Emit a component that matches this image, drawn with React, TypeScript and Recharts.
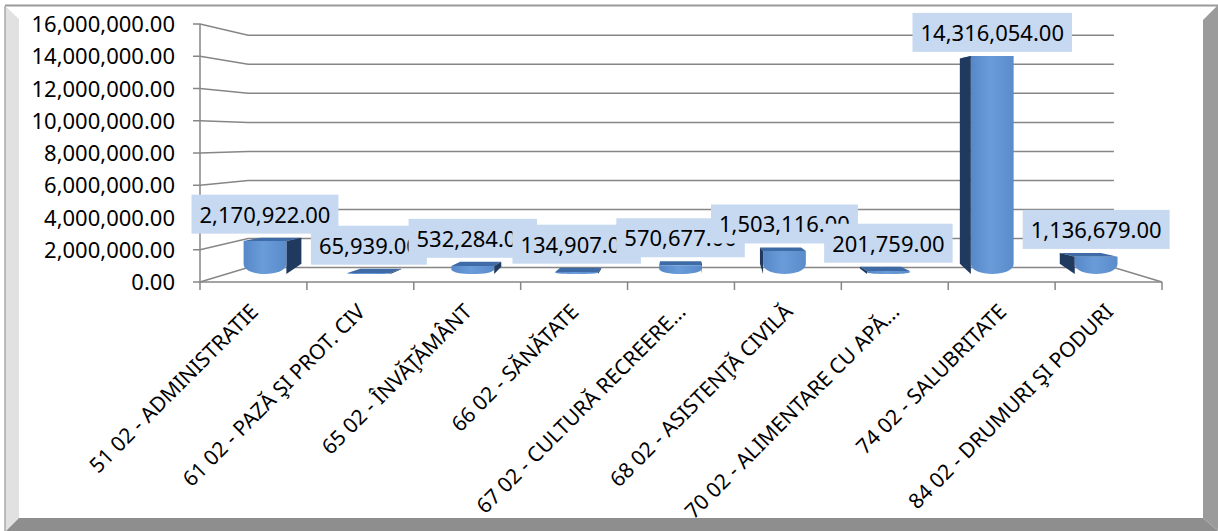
import React from 'react';
import { BarChart, Bar, XAxis, YAxis, CartesianGrid, LabelList } from 'recharts';

const categories = [
  '51 02 - ADMINISTRATIE',
  '61 02 - PAZĂ ŞI PROT. CIV',
  '65 02 - ÎNVĂŢĂMÂNT',
  '66 02 - SĂNĂTATE',
  '67 02 - CULTURĂ RECREERE...',
  '68 02 - ASISTENŢĂ CIVILĂ',
  '70 02 - ALIMENTARE CU APĂ...',
  '74 02 - SALUBRITATE',
  '84 02 - DRUMURI ŞI PODURI',
];
const amounts = [2170922, 65939, 532284, 134907, 570677, 1503116, 201759, 14316054, 1136679];
const yTicks = [0, 2000000, 4000000, 6000000, 8000000, 10000000, 12000000, 14000000, 16000000];

const data = categories.map((name, i) => ({ name, value: amounts[i] }));

const W = 1218;
const H = 531;
const MARGIN = { top: 24, right: 56, bottom: 0, left: 0 };
const Y_AXIS_W = 200;
const X_AXIS_H = 249;
const PLOT_LEFT = MARGIN.left + Y_AXIS_W;
const PLOT_RIGHT = W - MARGIN.right;
const AXIS_Y = H - MARGIN.bottom - X_AXIS_H;
const BAND = (PLOT_RIGHT - PLOT_LEFT) / categories.length;

// fake 3D: depth scaling toward a vanishing point
const CX = (PLOT_LEFT + PLOT_RIGHT) / 2;
const CY = 137;
const K_WALL = 0.9;
const K_FRONT = 0.972;
const K_BACK = 0.935;
const KY_FRONT = 0.945;
const KY_BACK = 0.915;
const px = (x: number, k: number) => CX + k * (x - CX);
const py = (y: number, k: number) => CY + k * (y - CY);

const FONT = '"Noto Sans", sans-serif';
const AXIS = '#868686';

const fmt = (v: number) =>
  v.toLocaleString('en-US', { minimumFractionDigits: 2, maximumFractionDigits: 2 });

let ctx: CanvasRenderingContext2D | null = null;
const textWidth = (s: string) => {
  if (!ctx) {
    ctx = document.createElement('canvas').getContext('2d');
    if (ctx) ctx.font = `22px ${FONT}`;
  }
  return ctx ? ctx.measureText(s).width : s.length * 11;
};

const GridLine = (props: any) => {
  const { y1 } = props;
  const yb = py(y1, K_WALL);
  const xl = px(PLOT_LEFT, K_WALL);
  const xr = px(PLOT_RIGHT, K_WALL);
  let d = `M${PLOT_LEFT},${y1} L${xl},${yb} L${xr},${yb}`;
  if (Math.abs(y1 - AXIS_Y) < 1) d += ` L${PLOT_RIGHT},${y1}`;
  return <path key={`grid-${y1}`} d={d} stroke={AXIS} strokeWidth={1.5} fill="none" />;
};

const Column = (props: any) => {
  const { x, y, width, height, index } = props;
  const fl = px(x, K_FRONT);
  const fr = px(x + width, K_FRONT);
  const ft = py(y, KY_FRONT);
  const fb = py(y + height, KY_FRONT);
  const bl = px(x, K_BACK);
  const br = px(x + width, K_BACK);
  const bt = py(y, KY_BACK);
  const bb = py(y + height, KY_BACK);
  const r = Math.max(0, Math.min(10, (fb - ft) * 0.6, (fr - fl) / 2));
  const leftOfCenter = x + width / 2 < CX;
  const id = `colGrad${index}`;
  const side = leftOfCenter
    ? `M${fr},${ft} L${br},${bt} L${br},${bb - r * 0.6} L${fr},${fb}Z`
    : `M${fl},${ft} L${bl},${bt} L${bl},${bb - r * 0.6} L${fl},${fb}Z`;
  const front = `M${fl},${ft} L${fr},${ft} L${fr},${fb - r} C${fr},${fb + r * 0.33} ${fl},${fb + r * 0.33} ${fl},${fb - r}Z`;
  return (
    <g>
      <defs>
        <linearGradient id={id} x1="0" y1="0" x2="1" y2="0">
          <stop offset="0" stopColor="#5687C7" />
          <stop offset="0.45" stopColor="#6A9CDA" />
          <stop offset="1" stopColor="#5A8CCB" />
        </linearGradient>
      </defs>
      <path d={`M${fl},${ft} L${fr},${ft} L${br},${bt} L${bl},${bt}Z`} fill="#3E6BA6" />
      <path d={side} fill="#1F3A5E" />
      <path d={front} fill={`url(#${id})`} />
    </g>
  );
};

const ValueLabel = (props: any) => {
  const { x, y, width, value } = props;
  const cx = px(x + width / 2, K_FRONT);
  const top = Math.min(py(y, KY_FRONT), py(y, KY_BACK)) - 4;
  const text = fmt(value);
  const w = textWidth(text) + 16;
  return (
    <g>
      <rect x={cx - w / 2} y={top - 39} width={w} height={39} fill="#C6D9F1" />
      <text x={cx} y={top - 11} textAnchor="middle" fontSize={22} fontFamily={FONT} fill="#000">
        {text}
      </text>
    </g>
  );
};

const XTick = (props: any) => {
  const { x, payload, index } = props;
  const tx = x + 6;
  const ty = AXIS_Y + 31;
  return (
    <g>
      <line x1={x - BAND / 2} x2={x - BAND / 2} y1={AXIS_Y} y2={AXIS_Y + 8} stroke={AXIS} strokeWidth={1.5} />
      {index === categories.length - 1 && (
        <line x1={x + BAND / 2} x2={x + BAND / 2} y1={AXIS_Y} y2={AXIS_Y + 8} stroke={AXIS} strokeWidth={1.5} />
      )}
      <text
        x={tx}
        y={ty}
        transform={`rotate(-45 ${tx} ${ty})`}
        textAnchor="end"
        fontSize={21}
        fontFamily={FONT}
        fill="#000"
      >
        {payload.value}
      </text>
    </g>
  );
};

const YTick = (props: any) => {
  const { x, y, payload } = props;
  return (
    <text x={x} y={y + 8} textAnchor="end" fontSize={22} fontFamily={FONT} fill="#000">
      {fmt(payload.value)}
    </text>
  );
};

// border strips sit above the chart, like the picture frame in the original
const Frame = () => (
  <svg width={W} height={H} style={{ position: 'absolute', left: 0, top: 0, pointerEvents: 'none' }}>
    <line x1={5} y1={5.5} x2={W} y2={5.5} stroke="#9a9a9a" strokeWidth={2} />
    <polygon points={`5,6 19,19 19,518 6,531 5,531`} fill="#e1e1e1" />
    <line x1={5} y1={6} x2={5} y2={531} stroke="#a8a8a8" strokeWidth={1.5} />
    <polygon points={`19,518 1203,518 1218,531 6,531`} fill="#8e8e8e" />
    <polygon points={`1218,5 1218,531 1203,518 1203,20`} fill="#9b9b9b" />
  </svg>
);

export default function App() {
  return (
    <div
      style={{ position: 'absolute', left: 0, top: 0, width: W, height: H, background: '#fff', fontFamily: FONT }}
    >
      <div style={{ position: 'absolute', left: 0, top: 0 }}>
        <BarChart width={W} height={H} data={data} margin={MARGIN}>
          <CartesianGrid vertical={false} horizontal={GridLine} />
          <XAxis
            dataKey="name"
            height={X_AXIS_H}
            interval={0}
            tickLine={false}
            axisLine={{ stroke: AXIS, strokeWidth: 1.5 }}
            tick={<XTick />}
          />
          <YAxis
            width={Y_AXIS_W}
            domain={[0, 16000000]}
            ticks={yTicks}
            tickSize={7}
            tickMargin={18}
            axisLine={{ stroke: AXIS, strokeWidth: 1.5 }}
            tickLine={{ stroke: AXIS, strokeWidth: 1.5 }}
            tick={<YTick />}
          />
          <Bar dataKey="value" barSize={44} shape={(p: any) => <Column {...p} />} isAnimationActive={false}>
            <LabelList dataKey="value" content={<ValueLabel />} />
          </Bar>
        </BarChart>
      </div>
      <Frame />
    </div>
  );
}
